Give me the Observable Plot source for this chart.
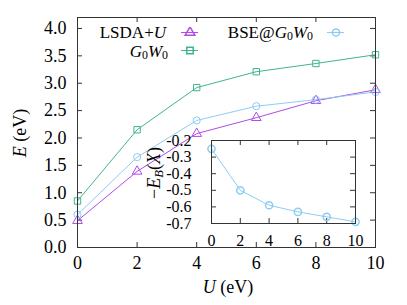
<!DOCTYPE html>
<html><head><meta charset="utf-8">
<script src="https://cdn.jsdelivr.net/npm/d3@7"></script>
<script src="https://cdn.jsdelivr.net/npm/@observablehq/plot@0.6"></script>
<style>
body{margin:0;background:#fff;}
#wrap{position:relative;width:407px;height:305px;font-family:"Liberation Serif",serif;color:#000;overflow:hidden;}
#wrap > svg{position:absolute;}
.lbl{position:absolute;font-size:18px;white-space:nowrap;line-height:1;}
.lbl i{font-style:italic;}
.lbl sub{font-size:0.7em;vertical-align:-0.2em;line-height:0;}
.rot{transform:translate(-50%,-50%) rotate(-90deg);}
.ctr{transform:translate(-50%,-50%);}
.rgt{transform:translate(-100%,-50%);}
</style></head><body><div id="wrap"></div>
<script>
// ---- data ----
const U = [0, 2, 4, 6, 8, 10];
const lsdaU = [0.49, 1.39, 2.08, 2.37, 2.68, 2.88];
const g0w0 = [0.85, 2.15, 2.92, 3.21, 3.36, 3.52];
const bse = [0.60, 1.65, 2.32, 2.58, 2.70, 2.84];
const ebX = [-0.25, -0.50, -0.59, -0.63, -0.66, -0.69];
const xTicks = [0, 2, 4, 6, 8, 10];
const yTicks = [0, 0.5, 1.0, 1.5, 2.0, 2.5, 3.0, 3.5, 4.0];
const insetYTicks = [-0.2, -0.3, -0.4, -0.5, -0.6, -0.7];

const colLSDA = "#b04ce8", colG0W0 = "#3fb58c", colBSE = "#8ccdf2";
const series = [
  {name: "LSDA+U", vals: lsdaU, color: colLSDA, symbol: "triangle"},
  {name: "G0W0", vals: g0w0, color: colG0W0, symbol: "square"},
  {name: "BSE@G0W0", vals: bse, color: colBSE, symbol: "circle"}
];
const rows = series.flatMap(s => U.map((u, i) => ({U: u, E: s.vals[i], s: s.name})));
const insetRows = U.map((u, i) => ({U: u, v: ebX[i]}));

const W = 407, H = 305, mL = 77, mR = 32, mT = 17, mB = 58;
const iw = W - mL - mR, ih = H - mT - mB;
const fmt1 = d => d.toFixed(1);
const FONT = "'Liberation Serif', serif";

const main = Plot.plot({
  width: W, height: H,
  marginLeft: mL, marginRight: mR, marginTop: mT, marginBottom: mB,
  style: {fontFamily: FONT, fontSize: "18px", color: "#000", background: "white"},
  x: {domain: [0, 10]},
  y: {domain: [0, 4.2]},
  marks: [
    Plot.axisX(xTicks, {tickSize: 0, tickPadding: 9, tickFormat: d => d, label: null, fontSize: 18}),
    Plot.axisY(yTicks, {tickSize: 0, tickPadding: 11, tickFormat: fmt1, label: null, fontSize: 18}),
    Plot.tickX(xTicks, {x: d => d, insetTop: ih - 5, stroke: "#333"}),
    Plot.tickX(xTicks, {x: d => d, insetBottom: ih - 5, stroke: "#333"}),
    Plot.tickY(yTicks, {y: d => d, insetRight: iw - 5, stroke: "#333"}),
    Plot.tickY(yTicks, {y: d => d, insetLeft: iw - 5, stroke: "#333"}),
    ...series.map(s => Plot.line(rows.filter(r => r.s === s.name), {x: "U", y: "E", stroke: s.color, strokeWidth: 1})),
    ...series.map(s => Plot.dot(rows.filter(r => r.s === s.name), {x: "U", y: "E", stroke: s.color, symbol: s.symbol, r: 3.6, strokeWidth: 1, fill: "none"})),
    Plot.frame({stroke: "#333"})
  ]
});
main.style.left = "0px"; main.style.top = "0px";

const IL = 140, IT = 125, IW = 230, IH = 130;
const imL = 71, imR = 15, imT = 15, imB = 32;
const iiw = IW - imL - imR, iih = IH - imT - imB;
const inset = Plot.plot({
  width: IW, height: IH,
  marginLeft: imL, marginRight: imR, marginTop: imT, marginBottom: imB,
  style: {fontFamily: FONT, fontSize: "16px", color: "#000", background: "transparent"},
  x: {domain: [0, 10]},
  y: {domain: [-0.7, -0.2]},
  marks: [
    Plot.axisX(xTicks, {tickSize: 0, tickPadding: 11, tickFormat: d => d, label: null, fontSize: 16}),
    Plot.axisY(insetYTicks, {tickSize: 0, tickPadding: 20, tickFormat: fmt1, label: null, fontSize: 16}),
    Plot.tickX(xTicks, {x: d => d, insetTop: iih - 5, stroke: "#333"}),
    Plot.tickX(xTicks, {x: d => d, insetBottom: iih - 5, stroke: "#333"}),
    Plot.tickY(insetYTicks, {y: d => d, insetRight: iiw - 5, stroke: "#333"}),
    Plot.tickY(insetYTicks, {y: d => d, insetLeft: iiw - 5, stroke: "#333"}),
    Plot.line(insetRows, {x: "U", y: "v", stroke: colBSE, strokeWidth: 1}),
    Plot.dot(insetRows, {x: "U", y: "v", stroke: colBSE, symbol: "circle", r: 3.6, fill: "none"}),
    Plot.frame({stroke: "#333"})
  ]
});
inset.style.left = IL + "px"; inset.style.top = IT + "px";

const wrap = document.getElementById("wrap");
wrap.appendChild(main);
wrap.appendChild(inset);

function label(html, x, y, cls, size) {
  const d = document.createElement("div");
  d.className = "lbl " + cls;
  d.style.left = x + "px"; d.style.top = y + "px";
  if (size) d.style.fontSize = size + "px";
  d.innerHTML = html;
  wrap.appendChild(d);
  return d;
}
const G0W0html = '<i>G</i><sub>0</sub><i>W</i><sub>0</sub>';
label('<i>E</i> (eV)', 20, 133, "rot", 18);
label('<i>U</i> (eV)', 228, 287, "ctr", 18);
label('\u2212<i>E</i><sub><i>B</i></sub>(<i>X</i>)', 154, 173, "rot", 18);
label('LSDA+<i>U</i>', 166, 32, "rgt", 17);
label(G0W0html, 168, 51, "rgt", 17);
label('BSE@' + G0W0html, 313, 32, "rgt", 17);

function swatch(color, symbol, x1, x2, y) {
  const s = Plot.plot({
    width: x2 - x1, height: 10, margin: 0,
    x: {domain: [0, 1]}, y: {domain: [0, 1]}, axis: null,
    style: {background: "transparent"},
    marks: [
      Plot.ruleY([0.5], {stroke: color, x1: 0, x2: 1}),
      Plot.dot([{x: 0.5, y: 0.5}], {x: "x", y: "y", symbol, stroke: color, r: 3.6, fill: "none"})
    ]
  });
  s.style.left = x1 + "px"; s.style.top = (y - 5) + "px";
  wrap.appendChild(s);
}
swatch(colLSDA, "triangle", 181, 198, 32);
swatch(colG0W0, "square", 181, 198, 50);
swatch(colBSE, "circle", 327, 344, 32);
</script></body></html>
